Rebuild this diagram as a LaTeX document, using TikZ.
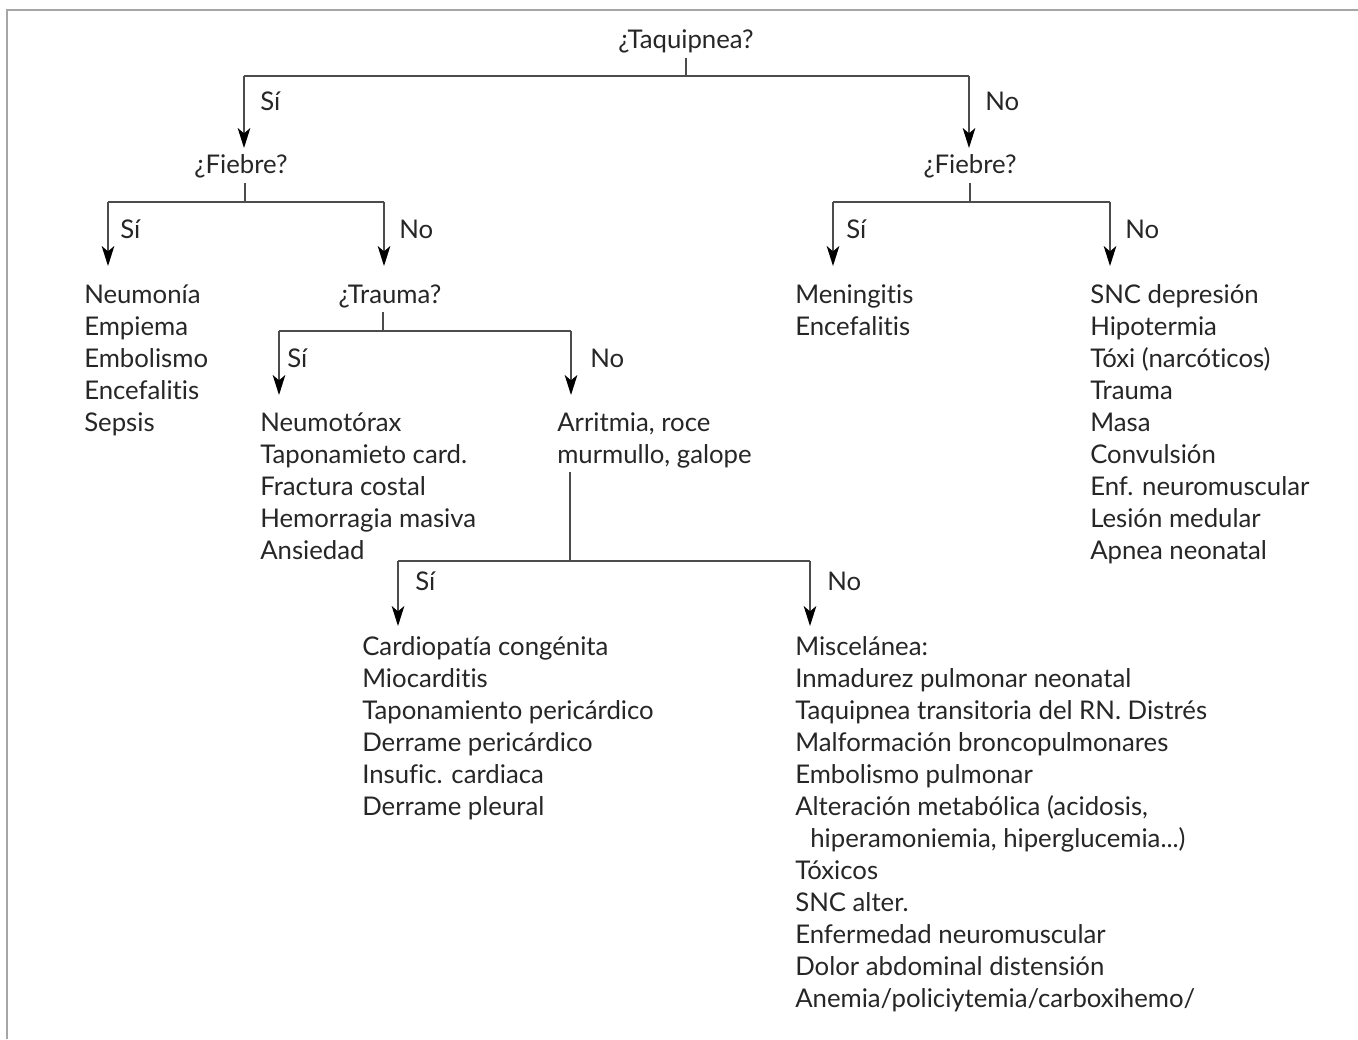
\documentclass[tikz,border=0pt]{standalone}
\usepackage{fontspec}
\setmainfont{Lato}[Ligatures={NoCommon}]
\usetikzlibrary{arrows.meta}
\begin{document}
\begin{tikzpicture}[x=0.75pt,y=-0.75pt,
  lbl/.style={inner sep=0pt, anchor=base west, font=\fontsize{19.3}{24}\selectfont, text=black!85},
  ctr/.style={inner sep=0pt, anchor=base, font=\fontsize{19.3}{24}\selectfont, text=black!85},
  conn/.style={draw=black!70, line width=1pt},
  arr/.style={conn, -{Stealth[length=15pt,width=9.5pt,inset=4pt,black]}},
  frame/.style={draw=black!35, line width=1.2pt}]
\useasboundingbox (0,0) rectangle (1358,1039);
% frame
\coordinate (fTL) at (7,10); \coordinate (fTR) at (1358,10); \coordinate (fBL) at (7,1039);
\draw[frame] (fTR) -- (fTL) -- (fBL);

% level 1
\node[ctr] (q1) at (686,48) {¿Taquipnea?};
\coordinate (q1s) at (686,58); \coordinate (q1j) at (686,76);
\coordinate (q1a) at (244,76); \coordinate (q1b) at (969,76);
\coordinate (q1at) at (244,148); \coordinate (q1bt) at (969,148);
\draw[conn] (q1s) -- (q1j);
\draw[conn] (q1a) -- (q1b);
\draw[arr] (q1a) -- (q1at);
\draw[arr] (q1b) -- (q1bt);
\node[lbl] (s1) at (260,110) {Sí};
\node[lbl] (n1) at (985,110) {No};

% left fiebre
\node[ctr] (q2) at (241,173) {¿Fiebre?};
\coordinate (q2s) at (245,183); \coordinate (q2j) at (245,202);
\coordinate (q2a) at (108,202); \coordinate (q2b) at (384,202);
\coordinate (q2at) at (108,266); \coordinate (q2bt) at (384,266);
\draw[conn] (q2s) -- (q2j);
\draw[conn] (q2a) -- (q2b);
\draw[arr] (q2a) -- (q2at);
\draw[arr] (q2b) -- (q2bt);
\node[lbl] (s2) at (120,238) {Sí};
\node[lbl] (n2) at (399,238) {No};

% right fiebre
\node[ctr] (q3) at (970,173) {¿Fiebre?};
\coordinate (q3s) at (970,183); \coordinate (q3j) at (970,202);
\coordinate (q3a) at (833,202); \coordinate (q3b) at (1110,202);
\coordinate (q3at) at (833,266); \coordinate (q3bt) at (1110,266);
\draw[conn] (q3s) -- (q3j);
\draw[conn] (q3a) -- (q3b);
\draw[arr] (q3a) -- (q3at);
\draw[arr] (q3b) -- (q3bt);
\node[lbl] (s3) at (846,238) {Sí};
\node[lbl] (n3) at (1125,238) {No};

% trauma
\node[ctr] (q4) at (390,303) {¿Trauma?};
\coordinate (q4s) at (383,312); \coordinate (q4j) at (383,331);
\coordinate (q4a) at (279,331); \coordinate (q4b) at (571,331);
\coordinate (q4at) at (279,395); \coordinate (q4bt) at (571,395);
\draw[conn] (q4s) -- (q4j);
\draw[conn] (q4a) -- (q4b);
\draw[arr] (q4a) -- (q4at);
\draw[arr] (q4b) -- (q4bt);
\node[lbl] (s4) at (287,367) {Sí};
\node[lbl] (n4) at (590,367) {No};

% arritmia
\node[lbl] (q5a) at (557,431) {Arritmia, roce};
\node[lbl] (q5b) at (557,463) {murmullo, galope};
\coordinate (q5s) at (570,472); \coordinate (q5j) at (570,561);
\coordinate (q5l) at (398,561); \coordinate (q5r) at (810,561);
\coordinate (q5lt) at (398,626); \coordinate (q5rt) at (810,626);
\draw[conn] (q5s) -- (q5j);
\draw[conn] (q5l) -- (q5r);
\draw[arr] (q5l) -- (q5lt);
\draw[arr] (q5r) -- (q5rt);
\node[lbl] (s5) at (415,590) {Sí};
\node[lbl] (n5) at (827,590) {No};

% lists
\foreach \t [count=\i] in {Neumonía,Empiema,Embolismo,Encefalitis,Sepsis}
  \node[lbl] (A\i) at (84,{303+32*(\i-1)}) {\t};
\foreach \t [count=\i] in {Meningitis,Encefalitis}
  \node[lbl] (B\i) at (795,{303+32*(\i-1)}) {\t};
\foreach \t [count=\i] in {SNC depresión,Hipotermia,Tóxi (narcóticos),Trauma,Masa,Convulsión,Enf. neuromuscular,Lesión medular,Apnea neonatal}
  \node[lbl] (C\i) at (1090,{303+32*(\i-1)}) {\t};
\foreach \t [count=\i] in {Neumotórax,Taponamieto card.,Fractura costal,Hemorragia masiva,Ansiedad}
  \node[lbl] (D\i) at (260,{431+32*(\i-1)}) {\t};
\foreach \t [count=\i] in {Cardiopatía congénita,Miocarditis,Taponamiento pericárdico,Derrame pericárdico,Insufic. cardiaca,Derrame pleural}
  \node[lbl] (E\i) at (362,{655+32*(\i-1)}) {\t};
\foreach \t [count=\i] in {Miscelánea:,Inmadurez pulmonar neonatal,Taquipnea transitoria del RN. Distrés,Malformación broncopulmonares,Embolismo pulmonar,{Alteración metabólica (acidosis,}}
  \node[lbl] (F\i) at (795,{655+32*(\i-1)}) {\t};
\node[lbl] (F7) at (810,847) {hiperamoniemia, hiperglucemia...)};
\foreach \t [count=\i from 8] in {Tóxicos,SNC alter.,Enfermedad neuromuscular,Dolor abdominal distensión,Anemia/policiytemia/carboxihemo/}
  \node[lbl] (F\i) at (795,{655+32*(\i-1)}) {\t};
\end{tikzpicture}
\end{document}
